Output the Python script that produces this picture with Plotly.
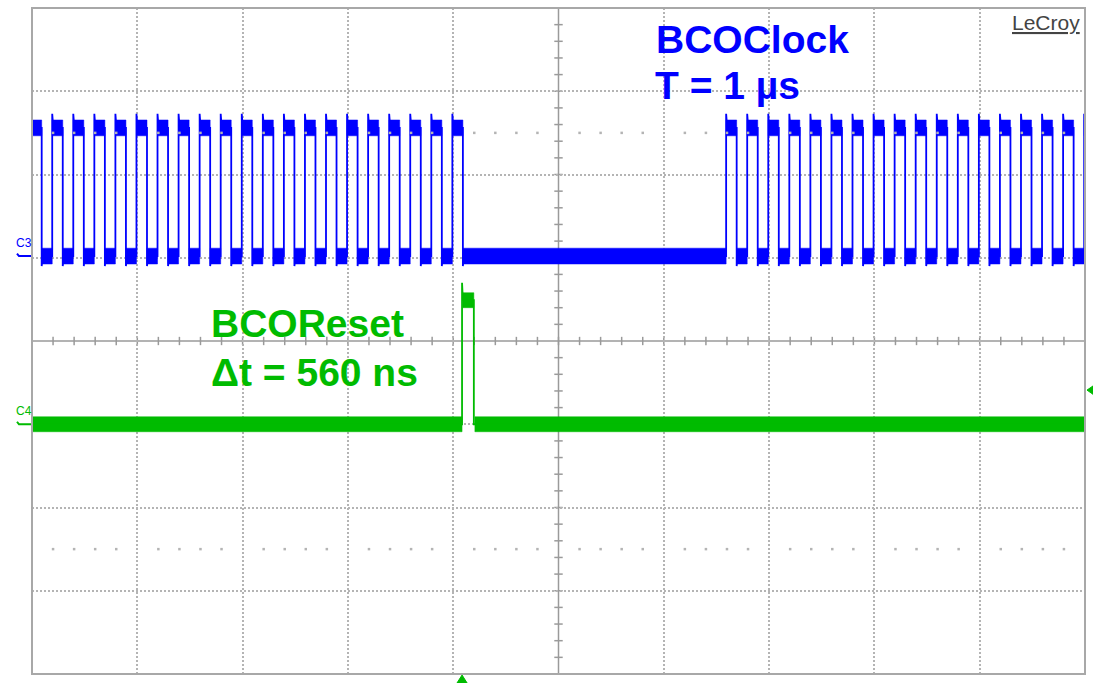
import plotly.graph_objects as go

# ---- Waveform data (time in microseconds, amplitude in screen divisions) ----
# Horizontal: 5 us/div, 10 divisions. Vertical: 8 divisions centred on 0.
clock_rise_us = [-0.04, 0.96, 1.96, 2.96, 3.96, 4.96, 5.96, 6.96, 7.96, 8.96,
                 9.96, 10.96, 11.96, 12.96, 13.96, 14.96, 15.96, 16.96, 17.96,
                 18.96, 19.96,
                 32.96, 33.96, 34.96, 35.96, 36.96, 37.96, 38.96, 39.96, 40.96,
                 41.96, 42.96, 43.96, 44.96, 45.96, 46.96, 47.96, 48.96, 49.96]
clock_fall_us = [0.46, 1.46, 2.46, 3.46, 4.46, 5.46, 6.46, 7.46, 8.46, 9.46,
                 10.46, 11.46, 12.46, 13.46, 14.46, 15.46, 16.46, 17.46, 18.46,
                 19.46, 20.46,
                 33.46, 34.46, 35.46, 36.46, 37.46, 38.46, 39.46, 40.46, 41.46,
                 42.46, 43.46, 44.46, 45.46, 46.46, 47.46, 48.46, 49.46]
clock_low_div = 1.02
clock_high_div = 2.56
clock_overshoot_div = 0.17
clock_undershoot_div = 0.12
clock_band_div = 0.19           # peak-to-peak noise band thickness

reset_rise_us = 20.42
reset_fall_us = 20.98           # 560 ns wide pulse
reset_low_div = -1.0
reset_high_div = 0.49
reset_overshoot_div = 0.70
reset_band_div = 0.18

trig_level_div = -0.59

t_start, t_end = 0.0, 50.0
us_per_div = 5.0
n_vdiv = 8

clock_label = ["BCOClock", "T = 1 µs"]
reset_label = ["BCOReset", "Δt = 560 ns"]

BLUE = "#0000ff"
GREEN = "#00bb00"
GRID = "#b4b4b4"
AXIS = "#9a9a9a"


def step_trace(rises, falls, low, high, over, under):
    """Thin edge-to-edge step line (with edge ringing) and its plateaus."""
    edges = sorted([(t, high) for t in rises] + [(t, low) for t in falls])
    level = low
    xs, ys = [t_start], [None]
    plateaus = []
    seg_start = t_start
    for t, new in edges:
        if t <= t_start:
            level = new
            continue
        if ys[0] is None:
            ys[0] = level
        peak = new + over if new == high else new - under
        xs += [t, t, t + 0.05]
        ys += [level, peak, new]
        plateaus.append((seg_start, t, level))
        seg_start, level = t, new
    xs.append(t_end)
    ys.append(level)
    plateaus.append((seg_start, t_end, level))
    return xs, ys, plateaus


def band_polys(plateaus, thick):
    """Filled rectangles for the noise band on each plateau."""
    bx, by = [], []
    h = thick / 2
    for a, b, lvl in plateaus:
        a, b = max(a, t_start), min(b, t_end)
        if b <= a:
            continue
        bx += [a, b, b, a, a, None]
        by += [lvl - h, lvl - h, lvl + h, lvl + h, lvl - h, None]
    return bx, by


fig = go.Figure()

# BCOClock (channel 3)
cx, cy, cplat = step_trace(clock_rise_us, clock_fall_us, clock_low_div, clock_high_div,
                           clock_overshoot_div, clock_undershoot_div)
bx, by = band_polys(cplat, clock_band_div)
fig.add_trace(go.Scatter(x=bx, y=by, mode="lines", fill="toself", fillcolor=BLUE,
                         line=dict(color=BLUE, width=0.5),
                         hoverinfo="skip", showlegend=False))
fig.add_trace(go.Scatter(x=cx, y=cy, mode="lines", line=dict(color=BLUE, width=1.8),
                         hoverinfo="skip", showlegend=False))

# BCOReset (channel 4)
rx = [t_start, reset_rise_us, reset_rise_us, reset_rise_us + 0.04,
      reset_fall_us, reset_fall_us, t_end]
ry = [reset_low_div, reset_low_div, reset_overshoot_div, reset_high_div,
      reset_high_div, reset_low_div, reset_low_div]
rplat = [(t_start, reset_rise_us, reset_low_div),
         (reset_rise_us + 0.04, reset_fall_us, reset_high_div),
         (reset_fall_us + 0.05, t_end, reset_low_div)]
gx, gy = band_polys(rplat, reset_band_div)
fig.add_trace(go.Scatter(x=gx, y=gy, mode="lines", fill="toself", fillcolor=GREEN,
                         line=dict(color=GREEN, width=0.5),
                         hoverinfo="skip", showlegend=False))
fig.add_trace(go.Scatter(x=rx, y=ry, mode="lines", line=dict(color=GREEN, width=1.8),
                         hoverinfo="skip", showlegend=False))

# Minor graticule dots
dot_x, dot_y = [], []
for yv in (2.5, -2.5):
    for k in range(1, 50):
        if k % 5:
            dot_x.append(k * 1.0)
            dot_y.append(yv)
fig.add_trace(go.Scatter(x=dot_x, y=dot_y, mode="markers",
                         marker=dict(color=GRID, size=2.5, symbol="square"),
                         hoverinfo="skip", showlegend=False))

shapes = []
# centre cross with tick marks
t_mid = (t_start + t_end) / 2
shapes.append(dict(type="line", xref="x", yref="y", x0=t_start, x1=t_end, y0=0, y1=0,
                   line=dict(color=AXIS, width=1.5), layer="below"))
shapes.append(dict(type="line", xref="x", yref="y", x0=t_mid, x1=t_mid,
                   y0=-n_vdiv / 2, y1=n_vdiv / 2, line=dict(color=AXIS, width=1.5),
                   layer="below"))
for k in range(1, 50):
    shapes.append(dict(type="line", xref="x", yref="y", x0=k, x1=k, y0=-0.05, y1=0.05,
                       line=dict(color=AXIS, width=1.5), layer="below"))
for k in range(-19, 20):
    if k == 0:
        continue
    yv = k * 0.2
    shapes.append(dict(type="line", xref="x", yref="y", x0=t_mid - 0.2, x1=t_mid + 0.2,
                       y0=yv, y1=yv, line=dict(color=AXIS, width=1.5), layer="below"))
# frame
shapes.append(dict(type="rect", xref="paper", yref="paper", x0=0, x1=1, y0=0, y1=1,
                   line=dict(color="#a8a8a8", width=2)))

PLOT_W = 1053.0
PLOT_H = 666.0


def px(p):
    return (p - 32) / PLOT_W


def py(p):
    return (674 - p) / PLOT_H


# channel offset markers to the left of the graticule
for lvl, col in ((clock_low_div, BLUE), (reset_low_div, GREEN)):
    shapes.append(dict(type="path", xref="paper", yref="y",
                       path="M %f,%f L %f,%f L %f,%f" % (px(17), lvl + 0.03, px(19), lvl,
                                                          px(31), lvl),
                       line=dict(color=col, width=2)))

# trigger position (bottom) and trigger level (right) markers
shapes.append(dict(type="path", xref="x", yref="paper", fillcolor=GREEN,
                   line=dict(color=GREEN, width=1),
                   path="M %f,%f L %f,%f L %f,%f Z" % (
                       reset_rise_us - 0.24, py(683), reset_rise_us + 0.24, py(683),
                       reset_rise_us, py(675))))
shapes.append(dict(type="path", xref="paper", yref="y", fillcolor=GREEN,
                   line=dict(color=GREEN, width=1),
                   path="M %f,%f L %f,%f L %f,%f Z" % (
                       px(1093), trig_level_div + 0.05, px(1093), trig_level_div - 0.05,
                       px(1087), trig_level_div)))

annotations = []
font_fam = "Liberation Sans, Arial, Helvetica, sans-serif"
annotations.append(dict(text="C3", xref="paper", yref="y", x=px(14), y=clock_low_div + 0.16,
                        xanchor="left", showarrow=False,
                        font=dict(family=font_fam, size=12, color=BLUE)))
annotations.append(dict(text="C4", xref="paper", yref="y", x=px(14), y=reset_low_div + 0.16,
                        xanchor="left", showarrow=False,
                        font=dict(family=font_fam, size=12, color=GREEN)))

big = dict(family=font_fam, size=39, color=BLUE)
annotations.append(dict(text="<b>%s</b>" % clock_label[0], x=29.55, y=3.625, xref="x", yref="y",
                        xanchor="left", yanchor="middle", showarrow=False, font=big))
annotations.append(dict(text="<b>%s</b>" % clock_label[1], x=29.50, y=3.07, xref="x", yref="y",
                        xanchor="left", yanchor="middle", showarrow=False, font=big))
bigg = dict(big, color=GREEN)
annotations.append(dict(text="<b>%s</b>" % reset_label[0], x=8.42, y=0.215, xref="x", yref="y",
                        xanchor="left", yanchor="middle", showarrow=False, font=bigg))
annotations.append(dict(text="<b>%s</b>" % reset_label[1], x=8.42, y=-0.375, xref="x", yref="y",
                        xanchor="left", yanchor="middle", showarrow=False, font=bigg))
annotations.append(dict(text="LeCroy", xref="paper", yref="paper", x=1.0, y=1.0,
                        xanchor="right", yanchor="top", xshift=-3, yshift=-1, showarrow=False,
                        font=dict(family=font_fam, size=21, color="#444444",
                                  lineposition="under")))

grid_common = dict(showgrid=True, gridcolor=GRID, gridwidth=1.5, griddash="2px,2px",
                   zeroline=False, showticklabels=False, ticks="", showline=False,
                   fixedrange=True)
fig.update_layout(
    width=1093, height=683,
    margin=dict(l=32, r=8, t=8, b=9),
    paper_bgcolor="white", plot_bgcolor="white",
    xaxis=dict(range=[t_start, t_end],
               tickvals=[us_per_div * k for k in range(1, 10) if k != 5], **grid_common),
    yaxis=dict(range=[-n_vdiv / 2, n_vdiv / 2],
               tickvals=[k for k in range(-3, 4) if k != 0], **grid_common),
    shapes=shapes, annotations=annotations, showlegend=False,
)

fig.write_html("out.html")
